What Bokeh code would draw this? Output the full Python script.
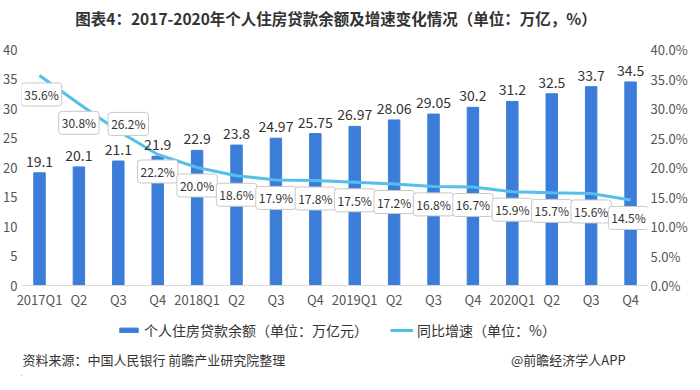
from bokeh.plotting import figure
from bokeh.layouts import column
from bokeh.models import (ColumnDataSource, Range1d, LinearAxis, FixedTicker, PrintfTickFormatter,
                          LabelSet, Legend, LegendItem)
from bokeh.core.properties import value
from bokeh.embed import file_html
from bokeh.resources import INLINE

quarters = ["2017Q1", "Q2", "Q3", "Q4", "2018Q1", "Q2", "Q3", "Q4",
            "2019Q1", "Q2", "Q3", "Q4", "2020Q1", "Q2", "Q3", "Q4"]
balance = [19.1, 20.1, 21.1, 21.9, 22.9, 23.8, 24.97, 25.75,
           26.97, 28.06, 29.05, 30.2, 31.2, 32.5, 33.7, 34.5]
balance_text = ["19.1", "20.1", "21.1", "21.9", "22.9", "23.8", "24.97", "25.75",
                "26.97", "28.06", "29.05", "30.2", "31.2", "32.5", "33.7", "34.5"]
growth = [35.6, 30.8, 26.2, 22.2, 20.0, 18.6, 17.9, 17.8,
          17.5, 17.2, 16.8, 16.7, 15.9, 15.7, 15.6, 14.5]
left_ticks = [0, 5, 10, 15, 20, 25, 30, 35, 40]
title_text = "图表4：2017-2020年个人住房贷款余额及增速变化情况（单位：万亿，%）"
series_names = ["个人住房贷款余额（单位：万亿元）", "同比增速（单位：%）"]
footer_texts = ["资料来源：中国人民银行 前瞻产业研究院整理", "@前瞻经济学人APP"]

# label placement (style, screen px): most growth labels sit below the line
label_dx = [2, 0, 10, 0, 0, 0, 0, 0, 0, 0, 0, 0, 0, 0, 0, -2]
label_dy = [19, 19, -7, 17, 18, 19, 18, 18, 18, 18, 18, 18, 18, 18, 18, 18]

FONT = "Noto Sans CJK SC"
BAR = "#3b7dd8"
LINE = "#55bfe8"
W = 684
FW = 626
ML = 19


def bare(fig):
    fig.outline_line_color = None
    fig.xgrid.grid_line_color = None
    fig.ygrid.grid_line_color = None
    return fig


# header with title
HH = 34
h = bare(figure(width=W, height=HH, output_backend="svg", toolbar_location=None,
                x_range=Range1d(0, W), y_range=Range1d(0, HH),
                min_border=0, x_axis_type=None, y_axis_type=None))
h.text(x=[347], y=[HH / 2], text=[title_text], text_align="center", text_baseline="middle",
       text_font=value(FONT), text_font_size="15.5px", text_font_style="bold",
       text_color="#333333")

idx = list(range(len(quarters)))
src = ColumnDataSource(dict(
    x=idx, bal=balance, bal_t=balance_text, g=growth,
    g_t=["%.1f%%" % v for v in growth], dx=label_dx, dy=label_dy,
))

p = bare(figure(frame_width=FW, frame_height=236, output_backend="svg", toolbar_location=None,
                x_range=Range1d(-0.457, 15.43), y_range=Range1d(0, 40),
                min_border_left=ML, min_border_right=W - FW - ML, min_border_top=15,
                min_border_bottom=20))
p.extra_y_ranges = {"pct": Range1d(0, 40)}

bars = p.vbar(x="x", top="bal", width=0.29, source=src, color=BAR)
line = p.line(x="x", y="g", source=src, line_color=LINE, line_width=3, y_range_name="pct")

# axes
p.xaxis.ticker = FixedTicker(ticks=idx)
p.xaxis.major_label_overrides = {i: q for i, q in enumerate(quarters)}
p.xaxis.axis_line_color = "#d9d9d9"
p.xaxis.major_label_standoff = 4

p.yaxis.ticker = FixedTicker(ticks=left_ticks)
p.yaxis.axis_line_color = None
p.yaxis.major_label_standoff = 4

ax2 = LinearAxis(y_range_name="pct", ticker=FixedTicker(ticks=left_ticks),
                 formatter=PrintfTickFormatter(format="%.1f%%"))
ax2.axis_line_color = None
ax2.major_label_standoff = 3
p.add_layout(ax2, "right")

for ax in [p.xaxis[0], p.yaxis[0], ax2]:
    ax.major_tick_line_color = None
    ax.minor_tick_line_color = None
    ax.major_tick_out = 0
    ax.major_tick_in = 0
    ax.minor_tick_out = 0
    ax.minor_tick_in = 0
    ax.major_label_text_font = FONT
    ax.major_label_text_font_size = "13px"
    ax.major_label_text_color = "#555555"

# labels
bl = LabelSet(x="x", y="bal", text="bal_t", source=src, y_offset=6,
              text_align="center", text_baseline="bottom",
              text_font=value(FONT), text_font_size="14px", text_color="#333333")
p.add_layout(bl)
p.text(x="x", y="g", text="g_t", source=src, y_range_name="pct",
       x_offset="dx", y_offset="dy",
       text_align="center", text_baseline="middle",
       text_font=value(FONT), text_font_size="12px", text_color="#333333",
       background_fill_color="white", border_line_color="#c8c8c8",
       border_line_width=1, padding=3, border_radius=3)

# footer with legend and source
FH = 65
f = bare(figure(width=W, height=FH, output_backend="svg", toolbar_location=None,
                x_range=Range1d(0, W), y_range=Range1d(0, FH),
                min_border=0, x_axis_type=None, y_axis_type=None))
# legend swatches (drawn outside the visible range, only their legend entries show)
fb = f.vbar(x=[-100], top=[1], width=1, color=BAR)
fl = f.line(x=[-100, -90], y=[1, 1], line_color=LINE, line_width=3)
legend = Legend(items=[LegendItem(label=series_names[0], renderers=[fb]),
                       LegendItem(label=series_names[1], renderers=[fl])],
                orientation="horizontal", location=(96, 36),
                label_text_font=FONT, label_text_font_size="14px", label_text_color="#333333",
                glyph_width=23, glyph_height=6, label_standoff=4, spacing=22,
                border_line_color=None, background_fill_alpha=0, padding=2, margin=0)
f.add_layout(legend)
f.text(x=[1], y=[17], text=[footer_texts[0]], text_align="left", text_baseline="middle",
       text_font=value(FONT), text_font_size="13px", text_color="#333333")
f.text(x=[540], y=[17], text=[footer_texts[1]], text_align="left", text_baseline="middle",
       text_font=value(FONT), text_font_size="13px", text_color="#333333")

layout = column(h, p, f, spacing=0)
open("out.html", "w").write(file_html(layout, INLINE))
